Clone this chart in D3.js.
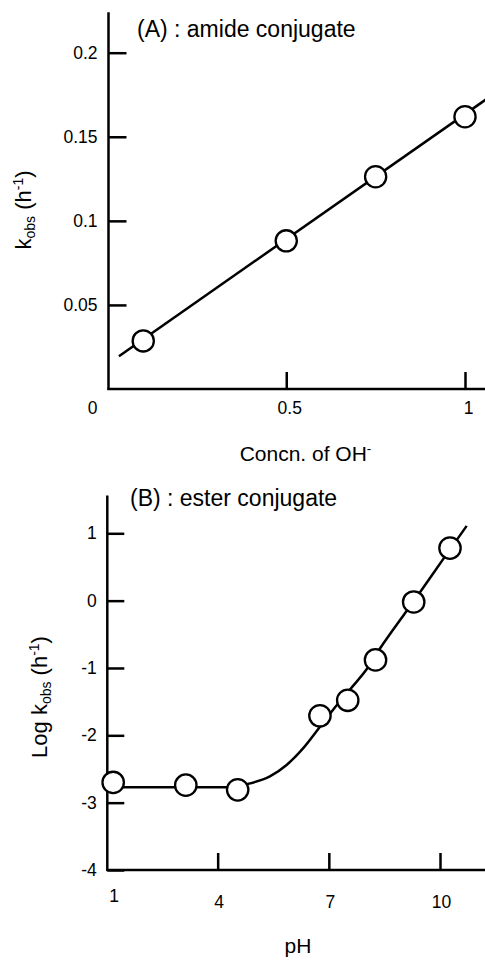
<!DOCTYPE html>
<html>
<head>
<meta charset="utf-8">
<script src="https://cdn.jsdelivr.net/npm/d3@7"></script>
<style>
  html, body { margin: 0; padding: 0; background: #fff; }
  svg { display: block; }
  text { font-family: "Liberation Sans", Arial, Helvetica, sans-serif; fill: #000; }
</style>
</head>
<body>
<svg id="chart" width="485" height="960"></svg>
<script>
// ---------- Panel A : amide conjugate ----------
const aConc = [0.1, 0.5, 0.75, 1.0];
const aKobs = [0.0286, 0.0881, 0.1262, 0.1619];
const aFitConc = [0.032, 1.06];
const aFitKobs = [0.0195, 0.1724];
const aXTicks = [0, 0.5, 1];
const aYTicks = [0.05, 0.1, 0.15, 0.2];
const aXExtent = [0, 1.06];
const aYExtent = [0, 0.224];

// ---------- Panel B : ester conjugate ----------
const bPH = [1.18, 3.14, 4.54, 6.76, 7.51, 8.26, 9.29, 10.27];
const bLogK = [-2.70, -2.74, -2.81, -1.71, -1.48, -0.88, -0.02, 0.78];
const bCurvePH  = [1.18, 4.3, 4.83, 5.41, 5.86, 6.31, 6.71, 7.10, 7.60, 8.02, 8.38, 9.05, 9.48, 10.09, 10.72];
const bCurveLog = [-2.77, -2.77, -2.72, -2.61, -2.44, -2.19, -1.91, -1.63, -1.30, -1.02, -0.71, -0.19, 0.14, 0.62, 1.11];
const bXTicks = [1, 4, 7, 10];
const bYTicks = [1, 0, -1, -2, -3, -4];
const bXExtent = [1, 11.25];
const bYExtent = [-4, 1.56];

const svg = d3.select("#chart");
const LW = 2.5;
const TICK_FS = 17.5;

function styleAxis(g) {
  g.select(".domain").remove();
  g.attr("font-size", null).attr("font-family", null);
  g.selectAll(".tick line").attr("stroke", "#000").attr("stroke-width", LW);
  g.selectAll(".tick text").attr("font-size", TICK_FS).attr("fill", "#000");
}

function axisTitle(g, x, y, rotate, main, sub, sup) {
  const t = g.append("text")
    .attr("transform", `translate(${x},${y})` + (rotate ? " rotate(-90)" : ""))
    .attr("font-size", 22).attr("text-anchor", "middle");
  t.append("tspan").text(main);
  t.append("tspan").attr("font-size", 14).attr("dy", 4).text(sub);
  t.append("tspan").attr("dy", -4).text(" (h");
  t.append("tspan").attr("font-size", 14).attr("dy", -8).text(sup);
  t.append("tspan").attr("dy", 8).text(")");
}

// ===== Panel A =====
const xA = d3.scaleLinear().domain([0, 1]).range([107.5, 465]);
const yA = d3.scaleLinear().domain([0, 0.2]).range([389, 52.7]);

const gA = svg.append("g");
gA.append("g").attr("transform", `translate(${xA(0) + 1},0)`)
  .call(d3.axisLeft(yA).tickValues(aYTicks).tickSize(-18).tickPadding(11).tickFormat(String))
  .call(styleAxis);
const axA = gA.append("g").attr("transform", `translate(0,${yA(0)})`)
  .call(d3.axisBottom(xA).tickValues(aXTicks).tickSize(-17).tickPadding(13).tickFormat(String))
  .call(styleAxis);
axA.selectAll(".tick").filter(d => d === 0).select("line").remove();
axA.selectAll(".tick text").attr("dx", d => d === 0 ? -15.5 : 3);

gA.append("line").attr("x1", xA(0) + 1).attr("x2", xA(0) + 1)
  .attr("y1", yA(aYExtent[0]) + 1).attr("y2", yA(aYExtent[1]))
  .attr("stroke", "#000").attr("stroke-width", LW);
gA.append("line").attr("x1", xA(aXExtent[0])).attr("x2", xA(aXExtent[1]))
  .attr("y1", yA(0)).attr("y2", yA(0))
  .attr("stroke", "#000").attr("stroke-width", LW);

gA.append("path")
  .datum(aFitConc.map((c, i) => [c, aFitKobs[i]]))
  .attr("d", d3.line().x(d => xA(d[0])).y(d => yA(d[1])))
  .attr("fill", "none").attr("stroke", "#000").attr("stroke-width", LW);

gA.selectAll("circle.pt").data(aConc.map((c, i) => [c, aKobs[i]])).join("circle")
  .attr("class", "pt")
  .attr("cx", d => xA(d[0])).attr("cy", d => yA(d[1])).attr("r", 10.6)
  .attr("fill", "#fff").attr("stroke", "#000").attr("stroke-width", 2.3);

gA.append("text").attr("x", 137).attr("y", 37).attr("font-size", 23)
  .text("(A) : amide conjugate");

const xtA = gA.append("text").attr("x", 305.5).attr("y", 460.5)
  .attr("font-size", 21).attr("text-anchor", "middle");
xtA.append("tspan").text("Concn. of OH");
xtA.append("tspan").attr("font-size", 13.5).attr("dy", -8).text("-");

axisTitle(gA, 30.5, 210, true, "k", "obs", "-1");

// ===== Panel B =====
const xB = d3.scaleLinear().domain([1, 10]).range([106.5, 440]);
const yB = d3.scaleLinear().domain([-4, 1]).range([870, 533.3]);

const gB = svg.append("g");
gB.append("g").attr("transform", `translate(${xB(1) + 0.8},0)`)
  .call(d3.axisLeft(yB).tickValues(bYTicks).tickSize(-17).tickPadding(10.5).tickFormat(String))
  .call(styleAxis);
const axB = gB.append("g").attr("transform", `translate(0,${yB(-4)})`)
  .call(d3.axisBottom(xB).tickValues(bXTicks).tickSize(-17).tickPadding(26).tickFormat(String))
  .call(styleAxis);
axB.selectAll(".tick").filter(d => d === 1).select("line").remove();
axB.selectAll(".tick text")
  .attr("dx", d => d === 1 ? 7 : 1)
  .attr("dy", d => d === 1 ? "0.37em" : "0.71em");

gB.append("line").attr("x1", xB(1) + 0.8).attr("x2", xB(1) + 0.8)
  .attr("y1", yB(bYExtent[0]) + 1).attr("y2", yB(bYExtent[1]))
  .attr("stroke", "#000").attr("stroke-width", LW);
gB.append("line").attr("x1", xB(bXExtent[0])).attr("x2", xB(bXExtent[1]))
  .attr("y1", yB(-4)).attr("y2", yB(-4))
  .attr("stroke", "#000").attr("stroke-width", LW);

gB.append("path")
  .datum(bCurvePH.map((p, i) => [p, bCurveLog[i]]))
  .attr("d", d3.line().curve(d3.curveMonotoneX).x(d => xB(d[0])).y(d => yB(d[1])))
  .attr("fill", "none").attr("stroke", "#000").attr("stroke-width", LW);

gB.selectAll("circle.pt").data(bPH.map((p, i) => [p, bLogK[i]])).join("circle")
  .attr("class", "pt")
  .attr("cx", d => xB(d[0])).attr("cy", d => yB(d[1])).attr("r", 10.7)
  .attr("fill", "#fff").attr("stroke", "#000").attr("stroke-width", 2.3);

gB.append("text").attr("x", 130).attr("y", 506).attr("font-size", 23)
  .text("(B) : ester conjugate");

gB.append("text").attr("x", 298).attr("y", 953).attr("font-size", 21)
  .attr("text-anchor", "middle").text("pH");

axisTitle(gB, 47, 697, true, "Log k", "obs", "-1");
</script>
</body>
</html>
